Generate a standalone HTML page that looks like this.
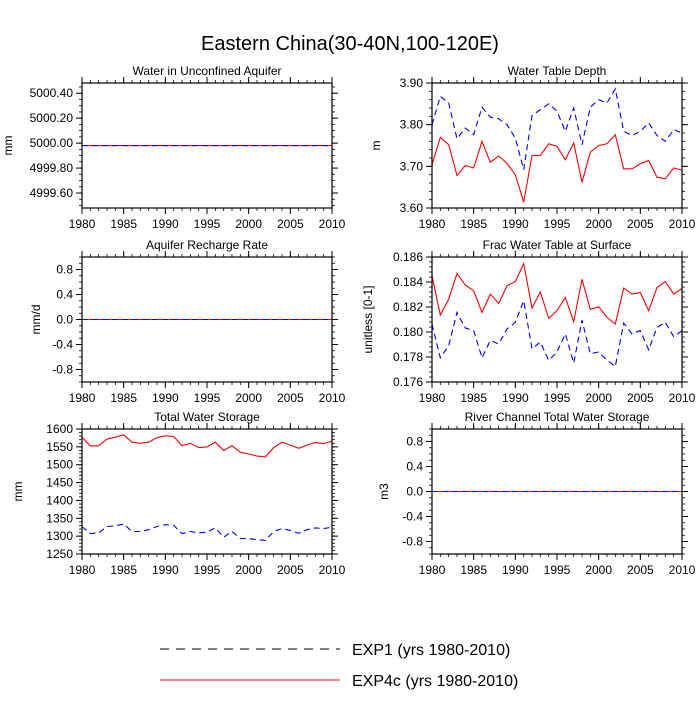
<!DOCTYPE html>
<html><head><meta charset="utf-8"><style>
body{margin:0;background:#fff;font-family:"Liberation Sans",sans-serif}
svg text{font-family:"Liberation Sans",sans-serif;fill:#000}
</style></head><body>
<svg id="c" width="700" height="700" xmlns="http://www.w3.org/2000/svg">
<text x="350" y="50" font-size="20" text-anchor="middle">Eastern China(30-40N,100-120E)</text>
<g>
<line x1="160" y1="649" x2="340" y2="649" stroke="#000" stroke-width="1" stroke-dasharray="9,7"/>
<text x="352" y="655" font-size="16">EXP1 (yrs 1980-2010)</text>
<line x1="160" y1="680" x2="340" y2="680" stroke="#ff0000" stroke-width="1"/>
<text x="352" y="686" font-size="16">EXP4c (yrs 1980-2010)</text>
</g>
</svg>
<script>
const years=[1980,1981,1982,1983,1984,1985,1986,1987,1988,1989,1990,1991,1992,1993,1994,1995,1996,1997,1998,1999,2000,2001,2002,2003,2004,2005,2006,2007,2008,2009,2010];
const xTicks=[1980,1985,1990,1995,2000,2005,2010];
const wuaExp1=years.map(()=>4999.98);
const wuaExp4c=years.map(()=>4999.98);
const wuaTicks=[4999.60,4999.80,5000.00,5000.20,5000.40];
const wtdExp1=[3.80,3.868,3.852,3.766,3.792,3.776,3.842,3.818,3.814,3.80,3.768,3.692,3.822,3.836,3.850,3.832,3.784,3.840,3.752,3.842,3.860,3.852,3.886,3.784,3.774,3.784,3.804,3.774,3.760,3.788,3.780];
const wtdExp4c=[3.704,3.770,3.752,3.678,3.702,3.696,3.760,3.710,3.725,3.707,3.680,3.614,3.726,3.726,3.754,3.748,3.716,3.756,3.662,3.734,3.750,3.754,3.776,3.694,3.694,3.706,3.714,3.674,3.670,3.696,3.691];
const wtdTicks=[3.60,3.70,3.80,3.90];
const rechExp1=years.map(()=>0);
const rechExp4c=years.map(()=>0);
const rechTicks=[-0.8,-0.4,0.0,0.4,0.8];
const fracExp1=[0.18064,0.17794,0.17892,0.18157,0.18032,0.18011,0.17794,0.17931,0.17905,0.18024,0.18077,0.1825,0.17866,0.17919,0.17773,0.1784,0.17985,0.17751,0.18095,0.17826,0.1784,0.17773,0.17725,0.1807,0.17985,0.18011,0.17857,0.18037,0.18077,0.17963,0.18011];
const fracExp4c=[0.18449,0.18136,0.18263,0.18467,0.18375,0.1833,0.18157,0.18303,0.18229,0.18369,0.18404,0.18547,0.18191,0.18321,0.18109,0.1817,0.18276,0.18082,0.18422,0.18181,0.18202,0.18117,0.18064,0.18351,0.18303,0.18316,0.1817,0.18356,0.18404,0.18303,0.18348];
const fracTicks=[0.176,0.178,0.180,0.182,0.184,0.186];
const twsExp1=[1327,1307,1309,1327,1329,1334,1313,1313,1318,1327,1332,1330,1307,1313,1309,1311,1323,1297,1313,1293,1293,1290,1288,1313,1321,1316,1308,1318,1323,1321,1325];
const twsExp4c=[1577,1553,1553,1572,1577,1584,1563,1560,1563,1576,1581,1579,1553,1560,1548,1550,1563,1540,1553,1535,1530,1524,1522,1548,1563,1555,1546,1555,1562,1559,1566];
const twsTicks=[1250,1300,1350,1400,1450,1500,1550,1600];
const rivExp1=years.map(()=>0);
const rivExp4c=years.map(()=>0);
const rivTicks=[-0.8,-0.4,0.0,0.4,0.8];

const svg=document.getElementById('c');
const NS='http://www.w3.org/2000/svg';
function mk(t,a,p){const e=document.createElementNS(NS,t);for(const k in a)e.setAttribute(k,a[k]);(p||svg).appendChild(e);return e;}

function panel(o){
  const x0=o.x,y0=o.y,w=250,h=125;
  const g=mk('g',{});
  
  
  const sx=v=>x0+(v-1980)/30*w;
  const sy=v=>y0+h-(v-o.min)/(o.max-o.min)*h;
  const t=mk('text',{x:x0+w/2,y:y0-8,'font-size':12,'text-anchor':'middle'},g);t.textContent=o.title;
  
  
  const yl=mk('text',{x:0,y:0,'font-size':12,'text-anchor':'middle',transform:`translate(${o.ylx},${y0+h/2}) rotate(-90)`},g);yl.textContent=o.ylab;
  
  
  // minor x ticks
  for(let yr=1980;yr<=2010;yr++){const X=sx(yr);mk('line',{x1:X,x2:X,y1:y0+h,y2:y0+h+3,stroke:'#000','stroke-width':0.8},g);mk('line',{x1:X,x2:X,y1:y0,y2:y0-3,stroke:'#000','stroke-width':0.8},g);}
  xTicks.forEach(v=>{const X=sx(v);mk('line',{x1:X,x2:X,y1:y0+h,y2:y0+h+6,stroke:'#000'},g);mk('line',{x1:X,x2:X,y1:y0,y2:y0-6,stroke:'#000'},g);
    const l=mk('text',{x:X,y:y0+h+20,'font-size':12,'text-anchor':'middle'},g);l.textContent=v;
    
    });
  const step=o.ticks[1]-o.ticks[0];
  const ms=step/o.minor;
  for(let v=o.ticks[0]-step*2;v<=o.max+1e-9;v+=ms){if(v<o.min-1e-9)continue;const Y=sy(v);mk('line',{x1:x0,x2:x0-3,y1:Y,y2:Y,stroke:'#000','stroke-width':0.8},g);mk('line',{x1:x0+w,x2:x0+w+3,y1:Y,y2:Y,stroke:'#000','stroke-width':0.8},g);}
  o.ticks.forEach(v=>{const Y=sy(v);mk('line',{x1:x0,x2:x0-6,y1:Y,y2:Y,stroke:'#000'},g);mk('line',{x1:x0+w,x2:x0+w+6,y1:Y,y2:Y,stroke:'#000'},g);
    const l=mk('text',{x:x0-9,y:Y+4,'font-size':12,'text-anchor':'end'},g);l.textContent=v.toFixed(o.dec);
    
    });
  const pts=a=>a.map((v,i)=>sx(years[i]).toFixed(1)+','+sy(v).toFixed(1)).join(' ');
  const r=mk('polyline',{points:pts(o.s2),fill:'none',stroke:'#ff0000','stroke-width':1.1},g);
  
  
  const b=mk('polyline',{points:pts(o.s1),fill:'none',stroke:'#0000ff','stroke-width':1.1,'stroke-dasharray':'6,4'},g);
  
  
  mk('rect',{x:x0,y:y0,width:w,height:h,fill:'none',stroke:'#000','stroke-width':1.2},g);
}
panel({name:'panel-water-unconfined-aquifer',x:82,y:83,title:'Water in Unconfined Aquifer',ylab:'mm',ylx:12,min:4999.48,max:5000.482,ticks:wuaTicks,dec:2,minor:4,s1:wuaExp1,s2:wuaExp4c});
panel({name:'panel-water-table-depth',x:432,y:83,title:'Water Table Depth',ylab:'m',ylx:380,min:3.60,max:3.90,ticks:wtdTicks,dec:2,minor:5,s1:wtdExp1,s2:wtdExp4c});
panel({name:'panel-aquifer-recharge',x:82,y:257,title:'Aquifer Recharge Rate',ylab:'mm/d',ylx:40,min:-1,max:1,ticks:rechTicks,dec:1,minor:4,s1:rechExp1,s2:rechExp4c});
panel({name:'panel-frac-water-table',x:432,y:257,title:'Frac Water Table at Surface',ylab:'unitless [0-1]',ylx:372,min:0.176,max:0.186,ticks:fracTicks,dec:3,minor:5,s1:fracExp1,s2:fracExp4c});
panel({name:'panel-total-water-storage',x:82,y:429,title:'Total Water Storage',ylab:'mm',ylx:22,min:1250,max:1600,ticks:twsTicks,dec:0,minor:5,s1:twsExp1,s2:twsExp4c});
panel({name:'panel-river-channel-storage',x:432,y:429,title:'River Channel Total Water Storage',ylab:'m3',ylx:388,min:-1,max:1,ticks:rivTicks,dec:1,minor:4,s1:rivExp1,s2:rivExp4c});
</script>
</body></html>
